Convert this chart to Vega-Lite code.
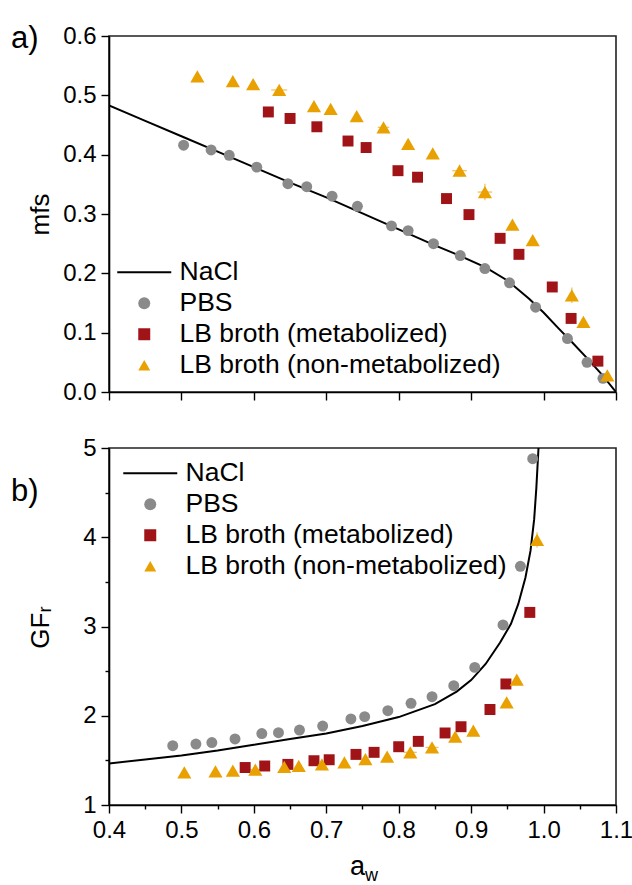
{
  "$schema": "https://vega.github.io/schema/vega-lite/v6.json",
  "background": "white",
  "padding": {"left": 10, "top": 22, "right": 15, "bottom": 2},
  "spacing": 30,
  "config": {
    "font": "Liberation Sans",
    "view": {"stroke": "#222222", "strokeWidth": 1.6},
    "axis": {
      "grid": false,
      "labelFont": "Liberation Sans",
      "labelFontSize": 24,
      "labelColor": "black",
      "labelFlush": false,
      "labelOverlap": false,
      "labelPadding": 5,
      "titleFont": "Liberation Sans",
      "titleFontSize": 26,
      "titleFontWeight": "normal",
      "titleColor": "black",
      "domainColor": "black",
      "domainWidth": 1.6,
      "tickColor": "black",
      "tickWidth": 1.4
    },
    "legend": {
      "orient": "none",
      "title": null,
      "labelFont": "Liberation Sans",
      "labelFontSize": 26.5,
      "labelColor": "black",
      "labelLimit": 500,
      "symbolSize": 144,
      "symbolStrokeWidth": 0,
      "labelOffset": 22,
      "rowPadding": 4,
      "padding": 0
    },
    "title": {"font": "Liberation Sans", "fontSize": 31, "fontWeight": "normal", "color": "black"}
  },
  "datasets": {
    "nacl_top": [
      {"aw": 0.40, "mfs": 0.483}, {"aw": 0.45, "mfs": 0.457}, {"aw": 0.50, "mfs": 0.431},
      {"aw": 0.55, "mfs": 0.405}, {"aw": 0.60, "mfs": 0.379}, {"aw": 0.65, "mfs": 0.353},
      {"aw": 0.70, "mfs": 0.328}, {"aw": 0.75, "mfs": 0.301}, {"aw": 0.80, "mfs": 0.274},
      {"aw": 0.85, "mfs": 0.247}, {"aw": 0.88, "mfs": 0.232}, {"aw": 0.92, "mfs": 0.210},
      {"aw": 0.95, "mfs": 0.188}, {"aw": 0.98, "mfs": 0.157}, {"aw": 1.00, "mfs": 0.134},
      {"aw": 1.02, "mfs": 0.108}, {"aw": 1.04, "mfs": 0.083}, {"aw": 1.06, "mfs": 0.057},
      {"aw": 1.08, "mfs": 0.030}, {"aw": 1.10, "mfs": 0.0}
    ],
    "pts_top": [
      {"series": "PBS", "aw": 0.503, "mfs": 0.416}, {"series": "PBS", "aw": 0.541, "mfs": 0.408},
      {"series": "PBS", "aw": 0.566, "mfs": 0.399}, {"series": "PBS", "aw": 0.604, "mfs": 0.379},
      {"series": "PBS", "aw": 0.647, "mfs": 0.351}, {"series": "PBS", "aw": 0.673, "mfs": 0.346},
      {"series": "PBS", "aw": 0.708, "mfs": 0.330}, {"series": "PBS", "aw": 0.743, "mfs": 0.313},
      {"series": "PBS", "aw": 0.790, "mfs": 0.280}, {"series": "PBS", "aw": 0.813, "mfs": 0.272},
      {"series": "PBS", "aw": 0.848, "mfs": 0.250}, {"series": "PBS", "aw": 0.885, "mfs": 0.230},
      {"series": "PBS", "aw": 0.919, "mfs": 0.208}, {"series": "PBS", "aw": 0.953, "mfs": 0.184},
      {"series": "PBS", "aw": 0.989, "mfs": 0.143}, {"series": "PBS", "aw": 1.033, "mfs": 0.090},
      {"series": "PBS", "aw": 1.060, "mfs": 0.050}, {"series": "PBS", "aw": 1.082, "mfs": 0.023},
      {"series": "LB broth (metabolized)", "aw": 0.620, "mfs": 0.472},
      {"series": "LB broth (metabolized)", "aw": 0.650, "mfs": 0.461},
      {"series": "LB broth (metabolized)", "aw": 0.687, "mfs": 0.447},
      {"series": "LB broth (metabolized)", "aw": 0.730, "mfs": 0.423},
      {"series": "LB broth (metabolized)", "aw": 0.755, "mfs": 0.412},
      {"series": "LB broth (metabolized)", "aw": 0.799, "mfs": 0.373},
      {"series": "LB broth (metabolized)", "aw": 0.826, "mfs": 0.362},
      {"series": "LB broth (metabolized)", "aw": 0.866, "mfs": 0.326},
      {"series": "LB broth (metabolized)", "aw": 0.897, "mfs": 0.299},
      {"series": "LB broth (metabolized)", "aw": 0.940, "mfs": 0.259},
      {"series": "LB broth (metabolized)", "aw": 0.966, "mfs": 0.232},
      {"series": "LB broth (metabolized)", "aw": 1.012, "mfs": 0.177},
      {"series": "LB broth (metabolized)", "aw": 1.038, "mfs": 0.124},
      {"series": "LB broth (metabolized)", "aw": 1.075, "mfs": 0.052},
      {"series": "LB broth (non-metabolized)", "aw": 0.522, "mfs": 0.532},
      {"series": "LB broth (non-metabolized)", "aw": 0.571, "mfs": 0.524},
      {"series": "LB broth (non-metabolized)", "aw": 0.599, "mfs": 0.519},
      {"series": "LB broth (non-metabolized)", "aw": 0.635, "mfs": 0.509},
      {"series": "LB broth (non-metabolized)", "aw": 0.683, "mfs": 0.482},
      {"series": "LB broth (non-metabolized)", "aw": 0.706, "mfs": 0.477},
      {"series": "LB broth (non-metabolized)", "aw": 0.742, "mfs": 0.465},
      {"series": "LB broth (non-metabolized)", "aw": 0.779, "mfs": 0.446},
      {"series": "LB broth (non-metabolized)", "aw": 0.813, "mfs": 0.418},
      {"series": "LB broth (non-metabolized)", "aw": 0.847, "mfs": 0.402},
      {"series": "LB broth (non-metabolized)", "aw": 0.884, "mfs": 0.373},
      {"series": "LB broth (non-metabolized)", "aw": 0.919, "mfs": 0.337},
      {"series": "LB broth (non-metabolized)", "aw": 0.957, "mfs": 0.282},
      {"series": "LB broth (non-metabolized)", "aw": 0.985, "mfs": 0.256},
      {"series": "LB broth (non-metabolized)", "aw": 1.039, "mfs": 0.163},
      {"series": "LB broth (non-metabolized)", "aw": 1.055, "mfs": 0.118},
      {"series": "LB broth (non-metabolized)", "aw": 1.088, "mfs": 0.028}
    ],
    "xerr_top": [
      {"xlo": 0.518, "xhi": 0.526, "mfs": 0.532},
      {"xlo": 0.624, "xhi": 0.646, "mfs": 0.509},
      {"xlo": 0.771, "xhi": 0.787, "mfs": 0.446},
      {"xlo": 0.874, "xhi": 0.894, "mfs": 0.373},
      {"xlo": 0.909, "xhi": 0.929, "mfs": 0.337}
    ],
    "yerr_top": [
      {"aw": 0.884, "ylo": 0.363, "yhi": 0.383},
      {"aw": 0.919, "ylo": 0.323, "yhi": 0.351},
      {"aw": 1.039, "ylo": 0.150, "yhi": 0.176}
    ],
    "nacl_bot": [
      {"aw": 0.40, "gf": 1.466}, {"aw": 0.45, "gf": 1.51}, {"aw": 0.50, "gf": 1.555},
      {"aw": 0.55, "gf": 1.61}, {"aw": 0.60, "gf": 1.675}, {"aw": 0.65, "gf": 1.74},
      {"aw": 0.70, "gf": 1.80}, {"aw": 0.75, "gf": 1.885}, {"aw": 0.80, "gf": 1.985},
      {"aw": 0.85, "gf": 2.13}, {"aw": 0.88, "gf": 2.27}, {"aw": 0.90, "gf": 2.40},
      {"aw": 0.92, "gf": 2.58}, {"aw": 0.94, "gf": 2.82}, {"aw": 0.955, "gf": 3.03},
      {"aw": 0.965, "gf": 3.25}, {"aw": 0.975, "gf": 3.55}, {"aw": 0.982, "gf": 3.85},
      {"aw": 0.987, "gf": 4.2}, {"aw": 0.990, "gf": 4.55}, {"aw": 0.993, "gf": 5.0}
    ],
    "pts_bot": [
      {"series": "PBS", "aw": 0.488, "gf": 1.664}, {"series": "PBS", "aw": 0.520, "gf": 1.683},
      {"series": "PBS", "aw": 0.542, "gf": 1.70}, {"series": "PBS", "aw": 0.574, "gf": 1.74},
      {"series": "PBS", "aw": 0.611, "gf": 1.80}, {"series": "PBS", "aw": 0.634, "gf": 1.81},
      {"series": "PBS", "aw": 0.663, "gf": 1.84}, {"series": "PBS", "aw": 0.695, "gf": 1.885},
      {"series": "PBS", "aw": 0.734, "gf": 1.964}, {"series": "PBS", "aw": 0.753, "gf": 1.99},
      {"series": "PBS", "aw": 0.785, "gf": 2.057}, {"series": "PBS", "aw": 0.817, "gf": 2.14},
      {"series": "PBS", "aw": 0.846, "gf": 2.213}, {"series": "PBS", "aw": 0.876, "gf": 2.337},
      {"series": "PBS", "aw": 0.905, "gf": 2.542}, {"series": "PBS", "aw": 0.944, "gf": 3.017},
      {"series": "PBS", "aw": 0.968, "gf": 3.674}, {"series": "PBS", "aw": 0.985, "gf": 4.88},
      {"series": "LB broth (metabolized)", "aw": 0.588, "gf": 1.42},
      {"series": "LB broth (metabolized)", "aw": 0.615, "gf": 1.437},
      {"series": "LB broth (metabolized)", "aw": 0.647, "gf": 1.455},
      {"series": "LB broth (metabolized)", "aw": 0.683, "gf": 1.496},
      {"series": "LB broth (metabolized)", "aw": 0.704, "gf": 1.507},
      {"series": "LB broth (metabolized)", "aw": 0.741, "gf": 1.567},
      {"series": "LB broth (metabolized)", "aw": 0.766, "gf": 1.59},
      {"series": "LB broth (metabolized)", "aw": 0.800, "gf": 1.653},
      {"series": "LB broth (metabolized)", "aw": 0.827, "gf": 1.713},
      {"series": "LB broth (metabolized)", "aw": 0.864, "gf": 1.807},
      {"series": "LB broth (metabolized)", "aw": 0.886, "gf": 1.877},
      {"series": "LB broth (metabolized)", "aw": 0.926, "gf": 2.07},
      {"series": "LB broth (metabolized)", "aw": 0.948, "gf": 2.356},
      {"series": "LB broth (metabolized)", "aw": 0.981, "gf": 3.158},
      {"series": "LB broth (non-metabolized)", "aw": 0.504, "gf": 1.366},
      {"series": "LB broth (non-metabolized)", "aw": 0.547, "gf": 1.377},
      {"series": "LB broth (non-metabolized)", "aw": 0.571, "gf": 1.384},
      {"series": "LB broth (non-metabolized)", "aw": 0.602, "gf": 1.396},
      {"series": "LB broth (non-metabolized)", "aw": 0.642, "gf": 1.426},
      {"series": "LB broth (non-metabolized)", "aw": 0.662, "gf": 1.437},
      {"series": "LB broth (non-metabolized)", "aw": 0.694, "gf": 1.455},
      {"series": "LB broth (non-metabolized)", "aw": 0.725, "gf": 1.477},
      {"series": "LB broth (non-metabolized)", "aw": 0.754, "gf": 1.515},
      {"series": "LB broth (non-metabolized)", "aw": 0.784, "gf": 1.541},
      {"series": "LB broth (non-metabolized)", "aw": 0.816, "gf": 1.59},
      {"series": "LB broth (non-metabolized)", "aw": 0.846, "gf": 1.645},
      {"series": "LB broth (non-metabolized)", "aw": 0.878, "gf": 1.765},
      {"series": "LB broth (non-metabolized)", "aw": 0.903, "gf": 1.833},
      {"series": "LB broth (non-metabolized)", "aw": 0.949, "gf": 2.15},
      {"series": "LB broth (non-metabolized)", "aw": 0.963, "gf": 2.404},
      {"series": "LB broth (non-metabolized)", "aw": 0.991, "gf": 3.97}
    ],
    "xerr_bot": [
      {"xlo": 0.595, "xhi": 0.609, "gf": 1.396},
      {"xlo": 0.807, "xhi": 0.825, "gf": 1.59},
      {"xlo": 0.837, "xhi": 0.855, "gf": 1.645}
    ],
    "yerr_bot": [
      {"aw": 0.949, "ylo": 2.09, "yhi": 2.21},
      {"aw": 0.991, "ylo": 3.885, "yhi": 4.055}
    ]
  },
  "vconcat": [
    {
      "width": 507,
      "height": 356,
      "title": {"text": "a)", "anchor": "start", "frame": "group", "dx": -98, "dy": 31, "offset": 0},
      "layer": [
        {
          "data": {"name": "nacl_top"},
          "mark": {"type": "line", "color": "black", "strokeWidth": 2, "clip": true},
          "encoding": {
            "x": {"field": "aw", "type": "quantitative",
              "scale": {"domain": [0.4, 1.1], "nice": false, "zero": false},
              "axis": {"values": [0.4, 0.45, 0.5, 0.55, 0.6, 0.65, 0.7, 0.75, 0.8, 0.85, 0.9, 0.95, 1.0, 1.05, 1.1],
                "labels": false, "title": null,
                "tickSize": {"condition": {"test": "abs(datum.value*10 - round(datum.value*10)) < 0.01", "value": 8}, "value": 4}}},
            "y": {"field": "mfs", "type": "quantitative",
              "scale": {"domain": [0, 0.6], "nice": false},
              "axis": {"values": [0, 0.05, 0.1, 0.15, 0.2, 0.25, 0.3, 0.35, 0.4, 0.45, 0.5, 0.55, 0.6],
                "labelExpr": "abs(datum.value*10 - round(datum.value*10)) < 0.01 ? format(datum.value, '.1f') : ''",
                "tickSize": {"condition": {"test": "abs(datum.value*10 - round(datum.value*10)) < 0.01", "value": 8}, "value": 4},
                "title": "mfs", "titleX": -69, "titleY": 178, "titleAlign": "center", "titleBaseline": "middle", "titleAngle": 270}}
          }
        },
        {
          "data": {"name": "xerr_top"},
          "mark": {"type": "rule", "color": "#f3c25e", "strokeWidth": 1.3},
          "encoding": {
            "x": {"field": "xlo", "type": "quantitative"},
            "x2": {"field": "xhi"},
            "y": {"field": "mfs", "type": "quantitative"}
          }
        },
        {
          "data": {"name": "yerr_top"},
          "mark": {"type": "rule", "color": "#f3c25e", "strokeWidth": 1.3},
          "encoding": {
            "x": {"field": "aw", "type": "quantitative"},
            "y": {"field": "ylo", "type": "quantitative"},
            "y2": {"field": "yhi"}
          }
        },
        {
          "data": {"name": "pts_top"},
          "mark": {"type": "point", "filled": true, "opacity": 1},
          "encoding": {
            "x": {"field": "aw", "type": "quantitative"},
            "y": {"field": "mfs", "type": "quantitative"},
            "size": {"condition": {"test": "datum.series == 'LB broth (non-metabolized)'", "value": 200}, "value": 120},
            "color": {"field": "series", "type": "nominal",
              "scale": {"domain": ["NaCl", "PBS", "LB broth (metabolized)", "LB broth (non-metabolized)"],
                "range": ["#000000", "#8a8a8a", "#a01418", "#e8a100"]},
              "legend": {"legendX": 22, "legendY": 223,
                "encode": {"symbols": {"update": {"size": {"signal": "datum.value === 'LB broth (non-metabolized)' ? 230 : 144"}}}}}},
            "shape": {"field": "series", "type": "nominal",
              "scale": {"domain": ["NaCl", "PBS", "LB broth (metabolized)", "LB broth (non-metabolized)"],
                "range": ["M-4.5,-0.16H4.5V0.16H-4.5Z", "circle", "square", "triangle-up"]},
              "legend": {"legendX": 22, "legendY": 223,
                "encode": {"symbols": {"update": {"size": {"signal": "datum.value === 'LB broth (non-metabolized)' ? 230 : 144"}}}}}}
          }
        }
      ]
    },
    {
      "width": 507,
      "height": 357,
      "title": {"text": "b)", "anchor": "start", "frame": "group", "dx": -98, "dy": 72, "offset": 0},
      "layer": [
        {
          "data": {"name": "nacl_bot"},
          "mark": {"type": "line", "color": "black", "strokeWidth": 2, "clip": true},
          "encoding": {
            "x": {"field": "aw", "type": "quantitative",
              "scale": {"domain": [0.4, 1.1], "nice": false, "zero": false},
              "axis": {"orient": "bottom", "values": [0.4, 0.45, 0.5, 0.55, 0.6, 0.65, 0.7, 0.75, 0.8, 0.85, 0.9, 0.95, 1.0, 1.05, 1.1],
                "labelExpr": "abs(datum.value*10 - round(datum.value*10)) < 0.01 ? format(datum.value, '.1f') : ''",
                "tickSize": {"condition": {"test": "abs(datum.value*10 - round(datum.value*10)) < 0.01", "value": 8}, "value": 4},
                "title": "a", "titleFontSize": 27, "titleX": 248, "titleY": 69, "titleAlign": "center", "titleBaseline": "alphabetic"}},
            "y": {"field": "gf", "type": "quantitative",
              "scale": {"domain": [1, 5], "nice": false, "zero": false},
              "axis": {"values": [1, 1.5, 2, 2.5, 3, 3.5, 4, 4.5, 5],
                "labelExpr": "datum.value % 1 == 0 ? format(datum.value, 'd') : ''",
                "tickSize": {"condition": {"test": "datum.value % 1 == 0", "value": 8}, "value": 4},
                "title": "GFᵣ", "titleX": -69, "titleY": 179, "titleAlign": "center", "titleBaseline": "middle", "titleAngle": 270}}
          }
        },
        {
          "data": {"name": "xerr_bot"},
          "mark": {"type": "rule", "color": "#f3c25e", "strokeWidth": 1.3},
          "encoding": {
            "x": {"field": "xlo", "type": "quantitative",
              "axis": {"orient": "bottom", "domain": false, "ticks": false, "labels": false,
                "title": "w", "titleFontSize": 18, "titleX": 262, "titleY": 75, "titleAlign": "center", "titleBaseline": "alphabetic"}},
            "x2": {"field": "xhi"},
            "y": {"field": "gf", "type": "quantitative"}
          }
        },
        {
          "data": {"name": "yerr_bot"},
          "mark": {"type": "rule", "color": "#f3c25e", "strokeWidth": 1.3},
          "encoding": {
            "x": {"field": "aw", "type": "quantitative", "axis": null},
            "y": {"field": "ylo", "type": "quantitative"},
            "y2": {"field": "yhi"}
          }
        },
        {
          "data": {"name": "pts_bot"},
          "mark": {"type": "point", "filled": true, "opacity": 1},
          "encoding": {
            "x": {"field": "aw", "type": "quantitative", "axis": null},
            "y": {"field": "gf", "type": "quantitative"},
            "size": {"condition": {"test": "datum.series == 'LB broth (non-metabolized)'", "value": 200}, "value": 120},
            "color": {"field": "series", "type": "nominal",
              "scale": {"domain": ["NaCl", "PBS", "LB broth (metabolized)", "LB broth (non-metabolized)"],
                "range": ["#000000", "#8a8a8a", "#a01418", "#e8a100"]},
              "legend": {"legendX": 28, "legendY": 12,
                "encode": {"symbols": {"update": {"size": {"signal": "datum.value === 'LB broth (non-metabolized)' ? 230 : 144"}}}}}},
            "shape": {"field": "series", "type": "nominal",
              "scale": {"domain": ["NaCl", "PBS", "LB broth (metabolized)", "LB broth (non-metabolized)"],
                "range": ["M-4.5,-0.16H4.5V0.16H-4.5Z", "circle", "square", "triangle-up"]},
              "legend": {"legendX": 28, "legendY": 12,
                "encode": {"symbols": {"update": {"size": {"signal": "datum.value === 'LB broth (non-metabolized)' ? 230 : 144"}}}}}}
          }
        }
      ],
      "resolve": {"axis": {"x": "independent"}}
    }
  ],
  "resolve": {
    "scale": {"color": "independent", "shape": "independent"},
    "legend": {"color": "independent", "shape": "independent"}
  }
}
